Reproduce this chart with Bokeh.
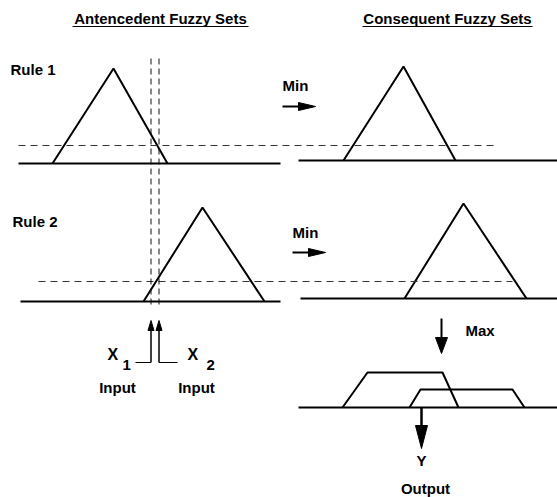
from bokeh.plotting import figure
from bokeh.models import Range1d
from bokeh.core.properties import value
from bokeh.embed import file_html
from bokeh.resources import INLINE

# ---- diagram data (page-pixel coordinates, y grows downward) ----
rules = ["Rule 1", "Rule 2"]
# antecedent triangles: left foot, peak, right foot, base y, peak y
ante_left = [52, 143]
ante_peak = [113, 202]
ante_right = [167, 264]
ante_base_y = [163, 301]
ante_peak_y = [68, 207]
ante_line_x0 = [18, 20]
ante_line_x1 = [280, 280]
# consequent triangles
cons_left = [343, 404]
cons_peak = [403, 463]
cons_right = [455, 526]
cons_base_y = [160, 298]
cons_peak_y = [66, 203]
cons_line_x0 = [298, 300]
cons_line_x1 = [557, 557]
# alpha-cut (min) dashed levels
cut_y = [145, 281]
cut_x0 = [18, 38]
cut_x1 = [493, 512]
# inputs
input_x = [150.5, 158.5]
input_top = [58, 58]
input_dash_end = [306, 306]
input_labels = ["1", "2"]
# output clipped sets (trapezoids): foot-left, top-left, top-right, foot-right
trap_x = [[342, 367, 442, 458], [409, 420, 512, 524]]
trap_top = [372, 389]
out_base_y = 407
out_line = [298, 557]

font = value("Liberation Sans")

p = figure(width=557, height=497, x_range=Range1d(0, 557), y_range=Range1d(497, 0),
           output_backend="svg", toolbar_location=None, min_border=0,
           x_axis_type=None, y_axis_type=None)
p.grid.visible = False
p.outline_line_color = None

# baselines
p.segment(x0=ante_line_x0, y0=ante_base_y, x1=ante_line_x1, y1=ante_base_y, line_color="black", line_width=2)
p.segment(x0=cons_line_x0, y0=cons_base_y, x1=cons_line_x1, y1=cons_base_y, line_color="black", line_width=2)
p.segment(x0=[out_line[0]], y0=[out_base_y], x1=[out_line[1]], y1=[out_base_y], line_color="black", line_width=2)

# triangles
for i in range(2):
    p.line([ante_left[i], ante_peak[i], ante_right[i]], [ante_base_y[i], ante_peak_y[i], ante_base_y[i]],
           line_color="black", line_width=2)
    p.line([cons_left[i], cons_peak[i], cons_right[i]], [cons_base_y[i], cons_peak_y[i], cons_base_y[i]],
           line_color="black", line_width=2)

# dashed cut lines
p.segment(x0=cut_x0, y0=cut_y, x1=cut_x1, y1=cut_y, line_color="#333333", line_width=1, line_dash="7 5")
# vertical dashed input lines
p.segment(x0=input_x, y0=input_top, x1=input_x, y1=input_dash_end, line_color="#111111", line_width=1, line_dash="6 4")

# trapezoids
for xs, top in zip(trap_x, trap_top):
    p.line(xs, [out_base_y, top, top, out_base_y], line_color="black", line_width=2)

# arrows: (x0, y0, x1, y1, head length, head half width, shaft width)
arrows = [
    (282, 106, 315, 106, 17, 4, 2),
    (292, 252, 325, 252, 17, 4, 2),
    (441, 318, 441, 353, 16, 6, 2),
    (421, 407, 421, 448, 23, 6, 2.5),
    (input_x[0], 362, input_x[0], 320, 10, 3, 1.5),
    (input_x[1], 362, input_x[1], 320, 10, 3, 1.5),
]
hx, hy = [], []
for x0, y0, x1, y1, hl, hw, lw in arrows:
    dx, dy = x1 - x0, y1 - y0
    L = (dx * dx + dy * dy) ** 0.5
    ux, uy = dx / L, dy / L
    bx, by = x1 - ux * hl, y1 - uy * hl
    p.segment(x0=[x0], y0=[y0], x1=[bx], y1=[by], line_color="black", line_width=lw)
    hx.append([x1, bx - uy * hw, bx + uy * hw])
    hy.append([y1, by + ux * hw, by - ux * hw])
p.patches(hx, hy, fill_color="black", line_color="black", line_width=1)

# input stubs
p.segment(x0=[135, input_x[1]], y0=[362, 362], x1=[input_x[0], 177], y1=[362, 362], line_color="black", line_width=1.2)

common = dict(text_font=font, text_font_style="bold", text_baseline="middle", text_color="black")

# titles with underline
titles = ["Antencedent Fuzzy Sets", "Consequent Fuzzy Sets"]
title_x = [160, 447]
p.text(x=title_x, y=[18, 18], text=titles, text_font_size="15px", text_align="center", **common)
p.segment(x0=[72, 362], y0=[26, 26], x1=[248, 532], y1=[26, 26], line_color="black", line_width=1.2)

# labels
p.text(x=[10, 12], y=[69, 221], text=rules, text_font_size="15px", text_align="left", **common)
p.text(x=[282, 292, 465], y=[85, 232, 330], text=["Min", "Min", "Max"], text_font_size="15px",
       text_align="left", **common)
p.text(x=[107, 187], y=[354, 354], text=["X", "X"], text_font_size="16px", text_align="left", **common)
p.text(x=[122, 206], y=[364, 364], text=input_labels, text_font_size="15px", text_align="left", **common)
p.text(x=[117, 196], y=[387, 387], text=["Input", "Input"], text_font_size="15px", text_align="center", **common)
p.text(x=[421, 425], y=[460, 488], text=["Y", "Output"], text_font_size="15px", text_align="center", **common)

open("out.html", "w").write(file_html(p, INLINE))
